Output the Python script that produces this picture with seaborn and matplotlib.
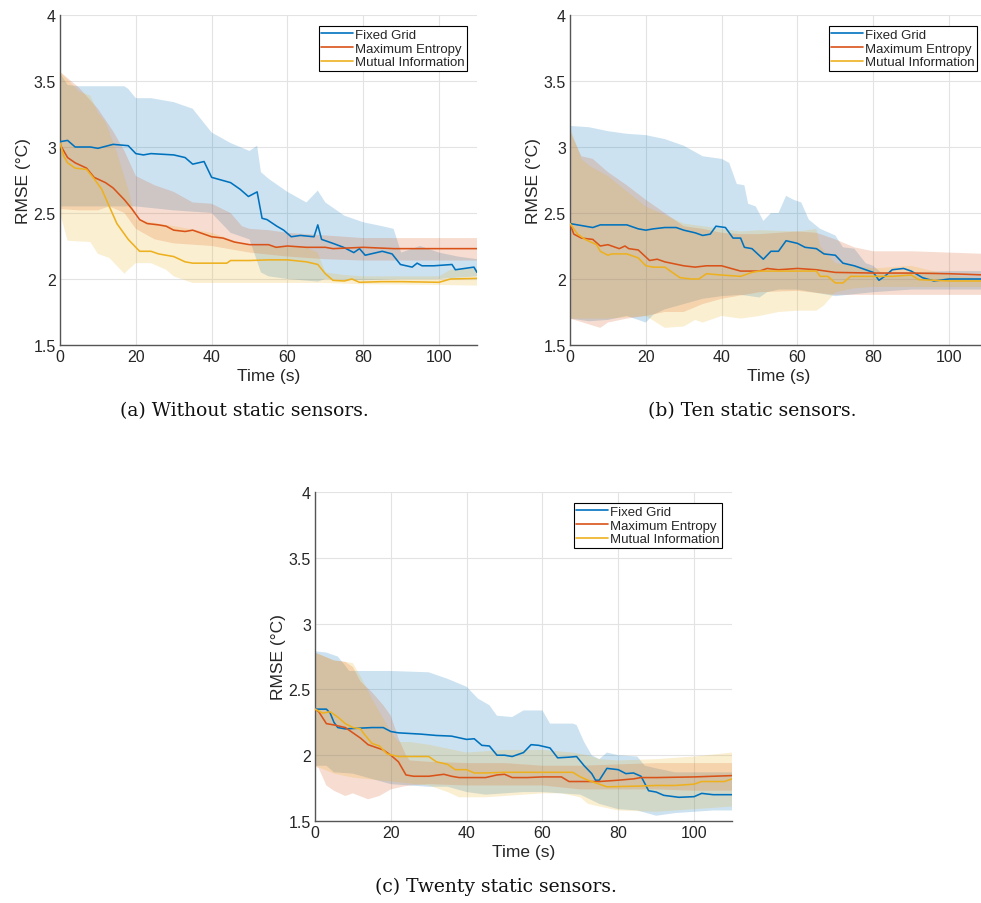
import numpy as np
import pandas as pd
import matplotlib
matplotlib.use("Agg")
import matplotlib.pyplot as plt
import seaborn as sns

SERIES = ["Fixed Grid", "Maximum Entropy", "Mutual Information"]
COLORS = ["#0072BD", "#D95319", "#EDB120"]
X_TICKS = [0, 20, 40, 60, 80, 100]
Y_TICKS = [1.5, 2, 2.5, 3, 3.5, 4]
Y_TICKLABELS = ["1.5", "2", "2.5", "3", "3.5", "4"]
CAPTIONS = ["(a) Without static sensors.", "(b) Ten static sensors.", "(c) Twenty static sensors."]

# ---------------- Panel (a): without static sensors ----------------
A_FG_T = [0, 2, 4, 8, 10, 14, 18, 20, 22, 24, 30, 33, 35, 38, 40, 45, 47.5, 49.7, 52, 53.3, 54.6, 57.2, 59, 61, 63.4, 67, 68, 69, 72, 74.8, 77.5, 79, 80.5, 85, 87.6, 89.8, 92.9, 94.2, 95.5, 98.6, 103.4, 104.3, 109.2, 110]
A_FG_Y = [3.04, 3.05, 3.0, 3.0, 2.99, 3.02, 3.01, 2.95, 2.94, 2.95, 2.94, 2.92, 2.87, 2.89, 2.77, 2.73, 2.68, 2.625, 2.66, 2.46, 2.45, 2.40, 2.37, 2.32, 2.33, 2.32, 2.41, 2.30, 2.27, 2.24, 2.20, 2.23, 2.18, 2.21, 2.19, 2.11, 2.09, 2.12, 2.10, 2.10, 2.11, 2.07, 2.09, 2.05]
A_FG_UP_T = [0, 2, 5, 17, 18, 20, 24, 30, 35, 40, 45, 50, 52, 53, 55, 60, 65, 68, 70, 75, 80, 85, 88, 90, 95, 100, 105, 110]
A_FG_UP_Y = [3.56, 3.47, 3.46, 3.46, 3.44, 3.37, 3.37, 3.34, 3.29, 3.11, 3.03, 2.97, 3.01, 2.81, 2.76, 2.66, 2.58, 2.67, 2.58, 2.48, 2.43, 2.40, 2.38, 2.20, 2.25, 2.20, 2.17, 2.15]
A_FG_LO_T = [0, 17, 20, 30, 40, 45, 50, 53, 55, 60, 68, 70, 80, 90, 100, 110]
A_FG_LO_Y = [2.55, 2.55, 2.55, 2.52, 2.50, 2.35, 2.30, 2.05, 2.02, 2.0, 1.98, 2.0, 1.99, 2.0, 2.0, 2.02]

A_ME_T = [0, 1, 2, 4, 7, 9, 12, 14, 17, 19, 21, 23, 26, 28, 30, 33, 35, 38, 40, 43, 46, 50, 55, 57, 60, 65, 70, 72, 80, 88, 110]
A_ME_Y = [3.02, 2.97, 2.92, 2.88, 2.84, 2.77, 2.73, 2.69, 2.60, 2.53, 2.45, 2.42, 2.41, 2.40, 2.37, 2.36, 2.37, 2.34, 2.32, 2.31, 2.28, 2.26, 2.26, 2.24, 2.25, 2.24, 2.24, 2.23, 2.24, 2.23, 2.23]
A_ME_UP_T = [0, 5, 10, 14, 17, 20, 25, 30, 35, 40, 45, 48, 50, 55, 60, 70, 80, 90, 110]
A_ME_UP_Y = [3.57, 3.45, 3.29, 3.12, 2.97, 2.78, 2.71, 2.66, 2.58, 2.57, 2.50, 2.40, 2.38, 2.37, 2.35, 2.33, 2.31, 2.31, 2.31]
A_ME_LO_T = [0, 5, 10, 13, 17, 20, 25, 30, 40, 50, 60, 70, 80, 110]
A_ME_LO_Y = [2.53, 2.52, 2.52, 2.55, 2.50, 2.38, 2.30, 2.27, 2.25, 2.20, 2.17, 2.15, 2.14, 2.14]

A_MI_T = [0, 1, 2, 4, 7, 9, 11, 13, 15, 16, 18, 20, 21, 24, 26, 30, 33, 35, 40, 44, 45, 50, 55, 60, 65, 68, 70, 72, 75, 77, 79, 85, 90, 100, 103, 110]
A_MI_Y = [3.03, 2.93, 2.88, 2.84, 2.83, 2.76, 2.68, 2.55, 2.42, 2.38, 2.30, 2.24, 2.21, 2.21, 2.19, 2.17, 2.13, 2.12, 2.12, 2.12, 2.14, 2.14, 2.145, 2.145, 2.13, 2.11, 2.04, 1.99, 1.985, 2.0, 1.975, 1.98, 1.98, 1.975, 2.0, 2.005]
A_MI_UP_T = [0, 5, 8, 10, 12, 15, 18, 20, 30, 40, 50, 55, 60, 65, 68, 70, 75, 80, 90, 100, 103, 110]
A_MI_UP_Y = [3.57, 3.42, 3.39, 3.26, 3.19, 2.96, 2.68, 2.45, 2.40, 2.35, 2.25, 2.25, 2.25, 2.24, 2.20, 2.05, 2.03, 2.02, 2.02, 2.02, 2.07, 2.08]
A_MI_LO_T = [0, 2, 8, 10, 13, 15, 17, 18, 20, 24, 28, 30, 35, 50, 70, 80, 100, 110]
A_MI_LO_Y = [2.50, 2.29, 2.28, 2.19, 2.16, 2.10, 2.04, 2.07, 2.12, 2.12, 2.07, 2.02, 1.97, 1.97, 1.97, 1.96, 1.955, 1.95]

# ---------------- Panel (b): ten static sensors ----------------
B_FG_T = [0, 4, 6, 8, 15, 18, 20, 22, 25, 28, 30, 33, 35, 37, 38.5, 41, 43, 45, 46, 48, 51, 53, 55, 57, 60, 62, 65, 67, 70, 72, 75, 78, 80, 81.5, 83, 85, 88, 90, 93, 96, 100, 105, 110]
B_FG_Y = [2.42, 2.40, 2.39, 2.41, 2.41, 2.38, 2.37, 2.38, 2.39, 2.39, 2.37, 2.35, 2.33, 2.34, 2.40, 2.39, 2.31, 2.31, 2.24, 2.23, 2.15, 2.21, 2.21, 2.29, 2.27, 2.24, 2.23, 2.19, 2.18, 2.12, 2.10, 2.07, 2.05, 1.99, 2.02, 2.07, 2.08, 2.06, 2.01, 1.985, 2.0, 2.0, 2.0]
B_FG_UP_T = [0, 5, 10, 15, 20, 25, 30, 35, 40, 42, 44, 46, 47, 49, 51, 53, 55, 57, 59, 61, 63, 66, 70, 72, 75, 78, 80, 82, 90, 100, 110]
B_FG_UP_Y = [3.16, 3.15, 3.12, 3.10, 3.09, 3.06, 3.01, 2.93, 2.91, 2.88, 2.72, 2.71, 2.57, 2.55, 2.44, 2.50, 2.50, 2.63, 2.60, 2.58, 2.45, 2.38, 2.33, 2.24, 2.23, 2.12, 2.10, 2.05, 2.05, 2.06, 2.06]
B_FG_LO_T = [0, 5, 10, 15, 20, 22, 25, 30, 35, 40, 45, 50, 52, 55, 60, 70, 80, 90, 100, 110]
B_FG_LO_Y = [1.70, 1.68, 1.69, 1.72, 1.67, 1.73, 1.77, 1.81, 1.85, 1.87, 1.88, 1.86, 1.90, 1.92, 1.92, 1.87, 1.90, 1.92, 1.92, 1.92]

B_ME_T = [0, 1, 3, 6, 8, 10, 13, 14.5, 15.5, 18, 21, 23, 25, 30, 33, 36, 40, 45, 50, 52, 55, 60, 65, 70, 80, 90, 100, 110]
B_ME_Y = [2.42, 2.34, 2.31, 2.30, 2.25, 2.26, 2.23, 2.25, 2.23, 2.22, 2.14, 2.15, 2.13, 2.10, 2.09, 2.10, 2.10, 2.06, 2.06, 2.08, 2.07, 2.08, 2.07, 2.05, 2.045, 2.045, 2.04, 2.03]
B_ME_UP_T = [0, 3, 6, 10, 15, 20, 25, 30, 35, 40, 45, 50, 55, 60, 65, 70, 75, 80, 90, 100, 110]
B_ME_UP_Y = [3.12, 2.93, 2.91, 2.81, 2.71, 2.60, 2.50, 2.40, 2.38, 2.35, 2.34, 2.34, 2.35, 2.36, 2.35, 2.30, 2.24, 2.21, 2.21, 2.20, 2.19]
B_ME_LO_T = [0, 8, 10, 15, 20, 25, 30, 35, 40, 50, 60, 70, 80, 90, 100, 110]
B_ME_LO_Y = [1.70, 1.63, 1.67, 1.70, 1.72, 1.75, 1.75, 1.81, 1.85, 1.90, 1.91, 1.88, 1.88, 1.88, 1.88, 1.88]

B_MI_T = [0, 2, 4, 7, 8, 10, 11, 15, 18, 20, 22, 25, 27, 29, 32, 34, 36, 40, 45, 48, 50, 55, 60, 65, 66, 68, 70, 72, 74, 80, 85, 90, 92, 100, 110]
B_MI_Y = [2.42, 2.34, 2.30, 2.26, 2.21, 2.18, 2.19, 2.19, 2.16, 2.10, 2.09, 2.09, 2.05, 2.01, 2.0, 2.0, 2.04, 2.03, 2.02, 2.05, 2.06, 2.06, 2.06, 2.06, 2.02, 2.02, 1.97, 1.97, 2.02, 2.02, 2.02, 2.03, 1.995, 1.985, 1.985]
B_MI_UP_T = [0, 3, 5, 10, 20, 30, 40, 45, 50, 60, 65, 66, 70, 80, 90, 100, 110]
B_MI_UP_Y = [3.15, 2.91, 2.86, 2.78, 2.55, 2.42, 2.38, 2.36, 2.37, 2.36, 2.38, 2.25, 2.12, 2.08, 2.10, 2.03, 2.0]
B_MI_LO_T = [0, 10, 20, 25, 30, 33, 35, 40, 45, 50, 55, 60, 65, 67, 70, 75, 80, 90, 100, 110]
B_MI_LO_Y = [1.70, 1.70, 1.72, 1.63, 1.64, 1.69, 1.67, 1.72, 1.70, 1.72, 1.75, 1.76, 1.76, 1.80, 1.90, 1.93, 1.94, 1.94, 1.94, 1.94]

# ---------------- Panel (c): twenty static sensors ----------------
C_FG_T = [0, 3, 4, 5, 6, 8, 15, 18, 20, 22, 28, 32, 36, 40, 42, 44, 46, 48, 50, 52, 55, 57, 59, 62, 64, 67, 69, 71, 73, 74, 75, 77, 80, 82, 84, 86, 88, 90, 92, 96, 100, 102, 105, 110]
C_FG_Y = [2.35, 2.35, 2.32, 2.25, 2.21, 2.20, 2.21, 2.21, 2.18, 2.17, 2.16, 2.15, 2.145, 2.12, 2.125, 2.075, 2.07, 2.0, 2.0, 1.99, 2.02, 2.08, 2.075, 2.055, 1.98, 1.985, 1.99, 1.92, 1.86, 1.81, 1.81, 1.90, 1.89, 1.86, 1.865, 1.84, 1.73, 1.72, 1.695, 1.68, 1.685, 1.71, 1.70, 1.70]
C_FG_UP_T = [0, 3, 6, 8, 9, 12, 20, 30, 35, 40, 43, 46, 48, 52, 55, 60, 62, 68, 69, 71, 73, 75, 77, 80, 85, 87, 90, 95, 100, 110]
C_FG_UP_Y = [2.79, 2.78, 2.75, 2.68, 2.64, 2.64, 2.64, 2.63, 2.58, 2.52, 2.43, 2.38, 2.30, 2.29, 2.34, 2.34, 2.24, 2.24, 2.23, 2.10, 2.0, 1.97, 2.02, 2.0, 1.99, 1.92, 1.90, 1.87, 1.87, 1.87]
C_FG_LO_T = [0, 3, 5, 10, 20, 25, 30, 35, 40, 45, 50, 55, 60, 65, 70, 75, 80, 85, 90, 95, 100, 105, 110]
C_FG_LO_Y = [1.92, 1.92, 1.87, 1.86, 1.78, 1.77, 1.76, 1.76, 1.72, 1.70, 1.71, 1.72, 1.72, 1.71, 1.70, 1.63, 1.59, 1.58, 1.54, 1.56, 1.57, 1.58, 1.58]

C_ME_T = [0, 1, 3, 5, 8, 10, 12, 14, 16, 18, 20, 22, 24, 26, 30, 34, 36, 38, 45, 48, 50, 52, 56, 60, 65, 67, 70, 75, 80, 84, 86, 90, 100, 105, 110]
C_ME_Y = [2.35, 2.33, 2.24, 2.23, 2.21, 2.17, 2.13, 2.08, 2.06, 2.04, 2.0, 1.95, 1.85, 1.84, 1.84, 1.855, 1.84, 1.83, 1.83, 1.85, 1.855, 1.83, 1.83, 1.835, 1.835, 1.80, 1.80, 1.80, 1.81, 1.82, 1.83, 1.83, 1.835, 1.84, 1.845]
C_ME_UP_T = [0, 5, 8, 10, 12, 15, 18, 20, 22, 24, 25, 30, 40, 50, 60, 70, 80, 90, 100, 110]
C_ME_UP_Y = [2.78, 2.72, 2.71, 2.67, 2.56, 2.48, 2.38, 2.30, 2.13, 2.0, 1.96, 1.95, 1.94, 1.94, 1.92, 1.92, 1.93, 1.94, 1.94, 1.94]
C_ME_LO_T = [0, 1, 3, 5, 8, 10, 14, 17, 20, 23, 25, 30, 40, 50, 60, 70, 80, 90, 100, 110]
C_ME_LO_Y = [1.92, 1.90, 1.77, 1.73, 1.69, 1.71, 1.665, 1.69, 1.74, 1.76, 1.77, 1.78, 1.77, 1.77, 1.77, 1.74, 1.74, 1.74, 1.73, 1.73]

C_MI_T = [0, 2, 4, 6, 8, 10, 12, 13, 15, 17, 19, 22, 25, 28, 30, 32, 35, 37, 40, 42, 45, 50, 60, 68, 70, 72, 75, 77, 85, 90, 95, 100, 102, 108, 110]
C_MI_Y = [2.35, 2.32, 2.33, 2.29, 2.24, 2.21, 2.20, 2.16, 2.09, 2.07, 2.01, 1.99, 1.99, 1.99, 1.99, 1.95, 1.93, 1.89, 1.89, 1.865, 1.865, 1.87, 1.87, 1.87, 1.835, 1.81, 1.78, 1.76, 1.765, 1.77, 1.77, 1.78, 1.80, 1.80, 1.82]
C_MI_UP_T = [0, 5, 10, 12, 15, 18, 20, 22, 25, 30, 35, 40, 45, 50, 60, 68, 72, 75, 80, 90, 100, 110]
C_MI_UP_Y = [2.78, 2.72, 2.70, 2.60, 2.43, 2.28, 2.18, 2.10, 2.10, 2.08, 2.05, 2.02, 2.03, 2.04, 2.04, 2.02, 2.0, 1.97, 1.96, 1.97, 1.99, 2.02]
C_MI_LO_T = [0, 5, 10, 20, 30, 35, 38, 40, 45, 50, 60, 65, 70, 72, 75, 80, 90, 100, 110]
C_MI_LO_Y = [1.92, 1.86, 1.83, 1.80, 1.77, 1.72, 1.68, 1.68, 1.68, 1.69, 1.71, 1.71, 1.68, 1.63, 1.61, 1.58, 1.57, 1.59, 1.61]

PANELS = [
    [(A_FG_T, A_FG_Y, A_FG_UP_T, A_FG_UP_Y, A_FG_LO_T, A_FG_LO_Y),
     (A_ME_T, A_ME_Y, A_ME_UP_T, A_ME_UP_Y, A_ME_LO_T, A_ME_LO_Y),
     (A_MI_T, A_MI_Y, A_MI_UP_T, A_MI_UP_Y, A_MI_LO_T, A_MI_LO_Y)],
    [(B_FG_T, B_FG_Y, B_FG_UP_T, B_FG_UP_Y, B_FG_LO_T, B_FG_LO_Y),
     (B_ME_T, B_ME_Y, B_ME_UP_T, B_ME_UP_Y, B_ME_LO_T, B_ME_LO_Y),
     (B_MI_T, B_MI_Y, B_MI_UP_T, B_MI_UP_Y, B_MI_LO_T, B_MI_LO_Y)],
    [(C_FG_T, C_FG_Y, C_FG_UP_T, C_FG_UP_Y, C_FG_LO_T, C_FG_LO_Y),
     (C_ME_T, C_ME_Y, C_ME_UP_T, C_ME_UP_Y, C_ME_LO_T, C_ME_LO_Y),
     (C_MI_T, C_MI_Y, C_MI_UP_T, C_MI_UP_Y, C_MI_LO_T, C_MI_LO_Y)],
]

sns.set_theme(style="white")
plt.rcParams["font.family"] = ["Liberation Sans", "DejaVu Sans"]

W, H = 981, 904
fig = plt.figure(figsize=(W / 100, H / 100), dpi=100)

# axes boxes in pixels: (left, top, right, bottom)
BOXES = [(60, 16, 477, 346), (570, 16, 987, 346), (315, 493, 732, 822)]
CAP_POS = [(244, 411), (752, 411), (496, 887)]
AX_COLOR = "#262626"

for pi, (box, series) in enumerate(zip(BOXES, PANELS)):
    l, t, r, b = box
    ax = fig.add_axes([l / W, 1 - b / H, (r - l) / W, (b - t) / H])
    # bands
    for (mt, my, ut, uy, lt, ly), col in zip(series, COLORS):
        px = list(ut) + list(lt)[::-1]
        py = list(uy) + list(ly)[::-1]
        ax.fill(px, py, color=col, alpha=0.2, lw=0, zorder=1)
    # mean lines
    frames = []
    for (mt, my, *_), name in zip(series, SERIES):
        frames.append(pd.DataFrame({"Time": mt, "RMSE": my, "Method": name}))
    df = pd.concat(frames, ignore_index=True)
    sns.lineplot(data=df, x="Time", y="RMSE", hue="Method", hue_order=SERIES,
                 palette=COLORS, estimator=None, sort=True, lw=1.15, ax=ax, zorder=3)
    ax.set_xlim(0, 110)
    ax.set_ylim(1.5, 4)
    ax.set_xticks(X_TICKS)
    ax.set_xticklabels([str(v) for v in X_TICKS])
    ax.set_yticks(Y_TICKS)
    ax.set_yticklabels(Y_TICKLABELS)
    ax.grid(True, color="#e3e3e3", lw=0.8, zorder=0)
    ax.set_axisbelow(True)
    for s in ["top", "right"]:
        ax.spines[s].set_visible(False)
    for s in ["left", "bottom"]:
        ax.spines[s].set_color("#555555")
        ax.spines[s].set_linewidth(1.0)
    ax.tick_params(axis="both", direction="in", length=4, width=0.8, color="#555555",
                   labelsize=11.5, labelcolor=AX_COLOR, pad=3)
    ax.set_xlabel("Time (s)", fontsize=12.5, color=AX_COLOR, labelpad=3)
    ax.set_ylabel("RMSE (°C)", fontsize=12.5, color=AX_COLOR, labelpad=2)
    leg = ax.legend(loc="upper right", bbox_to_anchor=(0.977, 0.967), fontsize=9.5,
                    frameon=True, fancybox=False, framealpha=1, edgecolor="black",
                    handlelength=2.4, handletextpad=0.15, labelspacing=0.12,
                    borderpad=0.2, borderaxespad=0)
    leg.get_frame().set_linewidth(0.8)
    for line in leg.get_lines():
        line.set_linewidth(1.2)
    cx, cy = CAP_POS[pi]
    fig.text(cx / W, 1 - cy / H, CAPTIONS[pi], ha="center", va="center",
             fontsize=13.5, family=["DejaVu Serif"], color="#111111")

fig.savefig("out.png", dpi=100, facecolor="white")
